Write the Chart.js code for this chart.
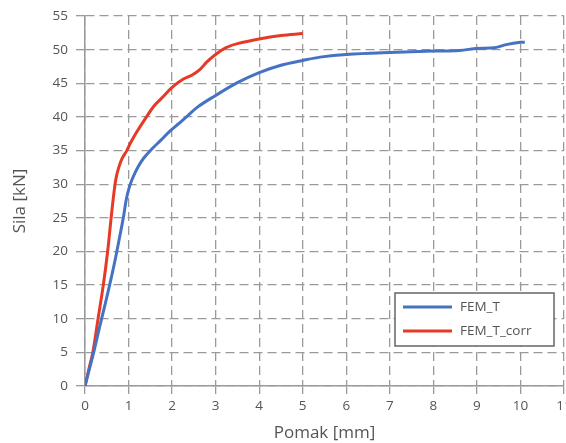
<!DOCTYPE html>
<html>
<head>
<meta charset="utf-8">
<script src="https://cdn.jsdelivr.net/npm/chart.js@4.4.1/dist/chart.umd.min.js"></script>
<style>
  html, body { margin: 0; padding: 0; background: #fff; overflow: hidden; }
  #wrap { width: 566px; height: 443px; overflow: hidden; }
</style>
</head>
<body>
<div id="wrap"><canvas id="c" width="580" height="443"></canvas></div>
<script>
// FEM_T curve (displacement mm, force kN)
var femT_x = [0, 0.1, 0.2, 0.3, 0.4, 0.5, 0.6, 0.7, 0.8, 0.88, 0.95, 1.02, 1.1, 1.22, 1.35, 1.53, 1.75, 1.95, 2.15, 2.33, 2.59, 3.0, 3.5, 4.0, 4.5, 5.0, 5.4, 6.0, 7.0, 8.0, 8.6, 9.0, 9.4, 9.7, 10.0, 10.1];
var femT_y = [0, 2.5, 5, 7.8, 10.5, 13.2, 16, 19, 22.3, 25, 27.8, 29.6, 31, 32.6, 33.9, 35.2, 36.6, 37.9, 39, 40, 41.5, 43.2, 45.1, 46.6, 47.7, 48.4, 48.9, 49.3, 49.6, 49.8, 49.9, 50.2, 50.3, 50.8, 51.1, 51.1];
// FEM_T_corr curve
var corr_x = [0, 0.1, 0.18, 0.3, 0.42, 0.52, 0.6, 0.66, 0.71, 0.77, 0.85, 0.96, 1.05, 1.19, 1.41, 1.58, 1.76, 2.0, 2.25, 2.45, 2.63, 2.8, 3.0, 3.24, 3.5, 4.0, 4.5, 5.0];
var corr_y = [0, 2.8, 5, 10, 15, 20, 25, 28.5, 30.8, 32.4, 33.8, 35, 36.2, 37.8, 40, 41.6, 42.8, 44.4, 45.6, 46.2, 47.0, 48.2, 49.3, 50.3, 50.9, 51.6, 52.1, 52.4];

var xTicks = [0, 1, 2, 3, 4, 5, 6, 7, 8, 9, 10, 11];
var yTicks = [0, 5, 10, 15, 20, 25, 30, 35, 40, 45, 50, 55];

function pts(xs, ys) {
    return xs.map(function (x, i) { return { x: x, y: ys[i] }; });
}

var FONT = '"Open Sans", "Noto Sans", sans-serif';
var TXT = '#555';
var GRID = '#9a9a9a';

// boxed legend inside the plot, bottom right
var boxLegend = {
    id: 'boxLegend',
    afterDraw: function (chart) {
        var ctx = chart.ctx, a = chart.chartArea;
        var x0 = a.right - 169, y0 = a.bottom - 93, w = 159, h = 53;
        ctx.save();
        ctx.fillStyle = '#fff';
        ctx.fillRect(x0, y0, w, h);
        ctx.strokeStyle = '#666';
        ctx.lineWidth = 1.5;
        ctx.strokeRect(x0, y0, w, h);
        ctx.font = '13.5px ' + FONT;
        ctx.textBaseline = 'middle';
        chart.data.datasets.forEach(function (ds, i) {
            var y = y0 + 14 + i * 24;
            ctx.strokeStyle = ds.borderColor;
            ctx.lineWidth = 3;
            ctx.beginPath();
            ctx.moveTo(x0 + 8, y);
            ctx.lineTo(x0 + 57, y);
            ctx.stroke();
            ctx.fillStyle = TXT;
            ctx.fillText(ds.label, x0 + 65, y);
        });
        ctx.restore();
    }
};

new Chart(document.getElementById('c'), {
    type: 'scatter',
    data: {
        datasets: [{
            label: 'FEM_T',
            data: pts(femT_x, femT_y),
            showLine: true,
            borderColor: '#4672c4',
            borderWidth: 3,
            pointRadius: 0,
            tension: 0.35
        }, {
            label: 'FEM_T_corr',
            data: pts(corr_x, corr_y),
            showLine: true,
            borderColor: '#e63a26',
            borderWidth: 3,
            pointRadius: 0,
            tension: 0.35
        }]
    },
    options: {
        responsive: false,
        animation: false,
        layout: { padding: { top: 14, right: 16, left: 0, bottom: 0 } },
        plugins: {
            legend: { display: false },
            tooltip: { enabled: false }
        },
        scales: {
            x: {
                type: 'linear',
                min: 0, max: 11,
                afterBuildTicks: function (s) { s.ticks = xTicks.map(function (v) { return { value: v }; }); },
                afterFit: function (s) { s.height = 57; s.paddingRight = 0; },
                grid: { color: GRID, lineWidth: 1.3, tickLength: 8, tickColor: GRID },
                border: { display: true, color: '#999', width: 1.5, dash: [9, 5] },
                ticks: { color: TXT, font: { family: FONT, size: 13.5 }, padding: 4, maxRotation: 0 },
                title: { display: true, text: 'Pomak [mm]', color: TXT, font: { family: FONT, size: 17 }, padding: { top: 4, bottom: 0 } }
            },
            y: {
                min: 0, max: 55,
                afterBuildTicks: function (s) { s.ticks = yTicks.map(function (v) { return { value: v }; }); },
                afterFit: function (s) { s.width = 85; },
                grid: { color: GRID, lineWidth: 1.3, tickLength: 9, tickColor: GRID },
                border: { display: true, color: '#999', width: 1.5, dash: [9, 5] },
                ticks: { color: TXT, font: { family: FONT, size: 13.5 }, padding: 8 },
                title: { display: true, text: 'Sila [kN]', color: TXT, font: { family: FONT, size: 17 }, padding: { top: 10, bottom: 8 } }
            }
        }
    },
    plugins: [boxLegend]
});
</script>
</body>
</html>
